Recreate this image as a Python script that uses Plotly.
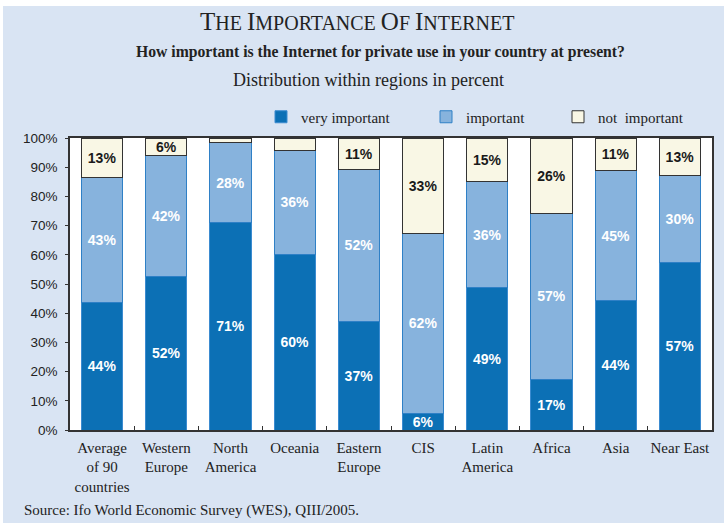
import plotly.graph_objects as go

categories = ["Average<br>of 90<br>countries", "Western<br>Europe", "North<br>America", "Oceania",
              "Eastern<br>Europe", "CIS", "Latin<br>America", "Africa", "Asia", "Near East"]
very_important = [43.8, 52.5, 71.0, 60.2, 37.2, 5.6, 48.7, 17.4, 44.2, 57.4]
important = [42.8, 41.5, 27.5, 35.6, 52.1, 61.8, 36.3, 56.9, 44.8, 29.9]
not_important = [13.4, 6.0, 1.5, 4.2, 10.7, 32.6, 15.0, 25.7, 11.0, 12.7]
very_labels = ["44%", "52%", "71%", "60%", "37%", "6%", "49%", "17%", "44%", "57%"]
imp_labels = ["43%", "42%", "28%", "36%", "52%", "62%", "36%", "57%", "45%", "30%"]
not_labels = ["13%", "6%", "", "", "11%", "33%", "15%", "26%", "11%", "13%"]
y_ticks = [0, 10, 20, 30, 40, 50, 60, 70, 80, 90, 100]
y_tick_labels = [f"{v}%" for v in y_ticks]

W, H = 724, 523
L, R, T, B = 70, 712, 138, 430


def px(x):
    return (x - L) / (R - L)


def py(y):
    return (B - y) / (B - T)


SERIF = "Liberation Serif, Times New Roman, serif"
SANS = "Liberation Sans, Arial, sans-serif"

fig = go.Figure()
fig.add_trace(go.Bar(x=categories, y=very_important, name="very important", text=very_labels,
                     marker=dict(color="#0c70b5", line=dict(color="#3b8bd0", width=1)),
                     textfont=dict(color="white", family=SANS, size=14, weight="bold"),
                     legend="legend"))
fig.add_trace(go.Bar(x=categories, y=important, name="important", text=imp_labels,
                     marker=dict(color="#87b3dd", line=dict(color="#2f80c6", width=1)),
                     textfont=dict(color="white", family=SANS, size=14, weight="bold"),
                     legend="legend2"))
fig.add_trace(go.Bar(x=categories, y=not_important, name="not  important", text=not_labels,
                     marker=dict(color="#f9f7e5", line=dict(color="#333333", width=1)),
                     textfont=dict(color="#1a1a1a", family=SANS, size=14, weight="bold"),
                     legend="legend3"))
fig.update_traces(textposition="inside", insidetextanchor="middle", width=0.64,
                  texttemplate="%{text}", hoverinfo="skip", textangle=0)

leg_common = dict(orientation="h", yanchor="middle", xanchor="left", bgcolor="rgba(0,0,0,0)",
                  font=dict(family=SERIF, size=15, color="#222"), itemwidth=30,
                  traceorder="normal")

fig.update_layout(
    width=W, height=H,
    margin=dict(l=L, r=W - R, t=T, b=H - B, pad=0, autoexpand=False),
    barmode="stack", bargap=0.36,
    paper_bgcolor="#d9e4f3", plot_bgcolor="white",
    showlegend=True,
    legend=dict(x=px(261), y=py(117), **leg_common),
    legend2=dict(x=px(426), y=py(117), **leg_common),
    legend3=dict(x=px(558), y=py(117), **leg_common),
    uniformtext=dict(minsize=14, mode="show"),
    xaxis=dict(type="category", tickson="boundaries", ticks="inside", ticklen=4,
               tickcolor="#333", showline=True, linecolor="#333", linewidth=1.5, mirror=True,
               tickangle=0, automargin=False, ticklabelstandoff=3,
               tickfont=dict(family=SERIF, size=15, color="#222"), showgrid=False),
    yaxis=dict(range=[0, 100], tickmode="array", tickvals=y_ticks, ticktext=y_tick_labels,
               ticks="outside", ticklen=3, automargin=False, ticklabelstandoff=5,
               tickcolor="#333", showline=True, linecolor="#333", linewidth=1.5, mirror=True,
               tickfont=dict(family=SANS, size=13.5, color="#222"), showgrid=False, zeroline=False),
)

title_html = ('<span style="font-size:25px">T</span>HE <span style="font-size:25px">I</span>MPORTANCE '
              '<span style="font-size:25px">O</span>F <span style="font-size:25px">I</span>NTERNET')
fig.add_annotation(x=px(357), y=py(22), xref="paper", yref="paper", text=title_html, showarrow=False,
                   font=dict(family=SERIF, size=20, color="#222"), xanchor="center", yanchor="middle")
fig.add_annotation(x=px(380), y=py(52), xref="paper", yref="paper",
                   text="<b>How important is the Internet for private use in your country at present?</b>",
                   showarrow=False, font=dict(family=SERIF, size=15.7, color="#222"),
                   xanchor="center", yanchor="middle")
fig.add_annotation(x=px(368), y=py(80), xref="paper", yref="paper",
                   text="Distribution within regions in percent", showarrow=False,
                   font=dict(family=SERIF, size=18, color="#222"), xanchor="center", yanchor="middle")
fig.add_annotation(x=px(22), y=py(510), xref="paper", yref="paper",
                   text="Source: Ifo World Economic Survey (WES), QIII/2005.", showarrow=False,
                   font=dict(family=SERIF, size=15, color="#222"), xanchor="left", yanchor="middle")

# white outer margin strips (panel starts slightly inset)
fig.add_shape(type="rect", xref="paper", yref="paper", x0=px(0), x1=px(W), y0=py(0), y1=py(6),
              fillcolor="white", line=dict(width=0), layer="below")
fig.add_shape(type="rect", xref="paper", yref="paper", x0=px(0), x1=px(3), y0=py(0), y1=py(H),
              fillcolor="white", line=dict(width=0), layer="below")

fig.write_html("out.html", config={"displayModeBar": False},
               post_script="document.body.style.margin='0';")
